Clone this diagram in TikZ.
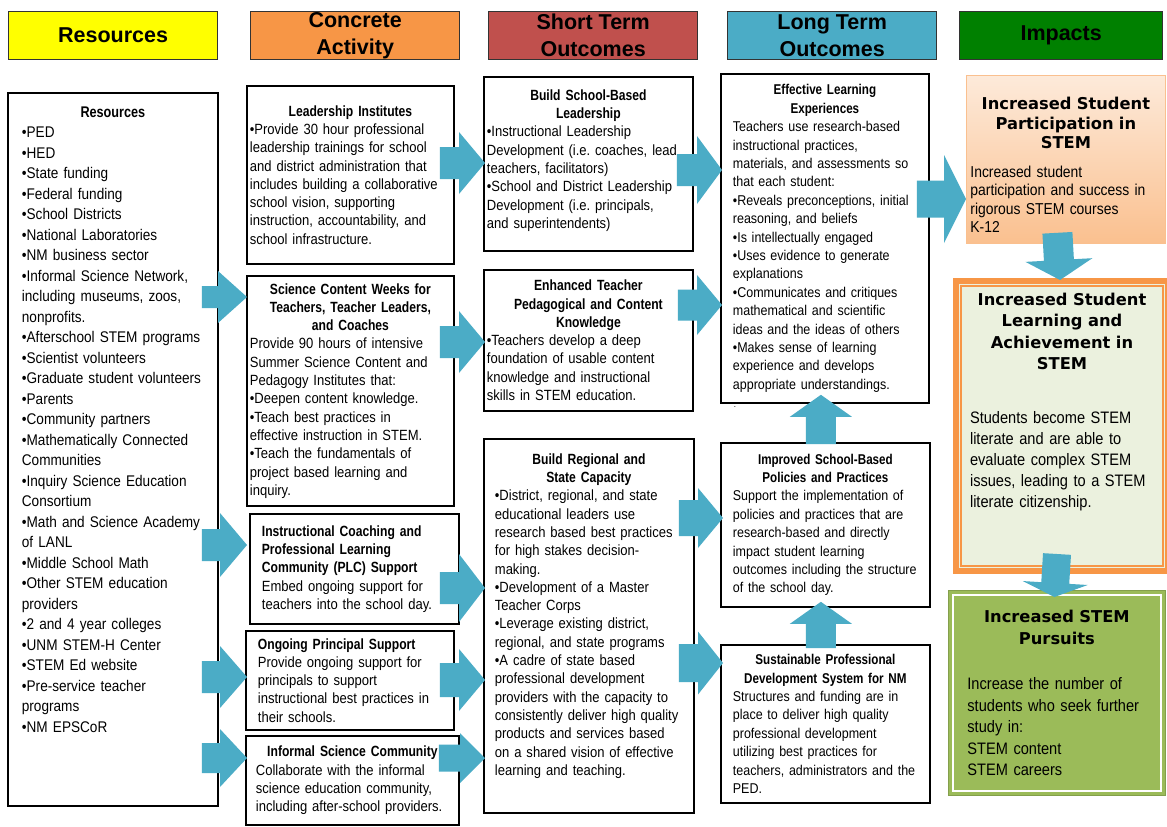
\documentclass[tikz,border=0pt]{standalone}
\usepackage{fontspec}
\setmainfont{Liberation Sans}[FakeStretch=0.88]
\newfontfamily\headfont{Liberation Sans Bold}[FakeStretch=0.82]
\newfontfamily\hdrfont{Liberation Sans}
\newfontfamily\impfont{DejaVu Sans}
\usepackage{tikz}
\usetikzlibrary{calc}
\usepackage{xcolor}
\definecolor{cYellow}{RGB}{255,255,0}
\definecolor{cOrange}{RGB}{247,150,70}
\definecolor{cRed}{RGB}{192,80,77}
\definecolor{cBlue}{RGB}{75,172,198}
\definecolor{cGreen}{RGB}{0,128,0}
\definecolor{cArrow}{RGB}{75,172,198}
\definecolor{cPeachTop}{RGB}{253,234,218}
\definecolor{cPeachBot}{RGB}{250,192,143}
\definecolor{cLearnBg}{RGB}{235,241,222}
\definecolor{cLeaf}{RGB}{155,187,89}
\frenchspacing
\hyphenpenalty=10000
\exhyphenpenalty=10000
% box headings
\newcommand{\bhd}[1]{{\centering\headfont #1\par}}
\newcommand{\ihd}[2][21.5]{{\centering\impfont\bfseries\fontsize{16.3}{#1}\selectfont #2\par}}
\tikzset{
	hdrbox/.style={draw=black!80, line width=1.3pt, anchor=north west,
		minimum width=209pt, minimum height=48pt, inner sep=0pt, align=center,
		font=\hdrfont\fontsize{21.5}{27}\selectfont\bfseries},
	lmbox/.style={draw=black, line width=1.8pt, fill=white, anchor=north west,
		inner ysep=0pt, align=left, font=\fontsize{14.8}{18.3}\selectfont},
	ltbox/.style={lmbox, font=\fontsize{14.2}{18.4}\selectfont},
	resbox/.style={lmbox, inner xsep=14pt, font=\fontsize{15.45}{20.5}\selectfont},
	impbox/.style={anchor=north west, inner ysep=0pt, align=left,
		font=\fontsize{16.6}{21}\selectfont},
	ashaft/.store in=\aShaft, ahead/.store in=\aHead, alen/.store in=\aLen,
	ashaft=16, ahead=31, alen=26,
	bigarr/.style={fill=cArrow, draw=none, to path={
			let \p1=(\tikztostart), \p2=(\tikztotarget),
			\n1={veclen(\x2-\x1,\y2-\y1)},
			\n2={(\x2-\x1)/\n1}, \n3={(\y2-\y1)/\n1} in
			({\x1-\n3*\aShaft},{\y1+\n2*\aShaft})
			-- ({\x2-\n2*\aLen-\n3*\aShaft},{\y2-\n3*\aLen+\n2*\aShaft})
			-- ({\x2-\n2*\aLen-\n3*\aHead},{\y2-\n3*\aLen+\n2*\aHead})
			-- (\p2)
			-- ({\x2-\n2*\aLen+\n3*\aHead},{\y2-\n3*\aLen-\n2*\aHead})
			-- ({\x2-\n2*\aLen+\n3*\aShaft},{\y2-\n3*\aLen-\n2*\aShaft})
			-- ({\x1+\n3*\aShaft},{\y1-\n2*\aShaft}) -- cycle}},
}

\begin{document}
\begin{tikzpicture}[x=1pt,y=-1pt]
	\fill[white] (0,0) rectangle (1167,827);
	\useasboundingbox (0,0) rectangle (1167,827);
	
	% column heads
	\node[hdrbox, fill=cYellow] (hres) at (8,11) {Resources};
	\node[hdrbox, fill=cOrange] (hact) at (250,11) {Concrete\\Activity};
	\node[hdrbox, fill=cRed] (hsto) at (488,11) {Short Term\\Outcomes};
	\node[hdrbox, fill=cBlue] (hlto) at (727,11) {Long Term\\Outcomes};
	\node[hdrbox, fill=cGreen, minimum width=203pt] (himp) at (959,11) {Impacts};
	
	% resources
	\node[resbox, text width=182pt, minimum height=713pt] (res) at (7,92) {\bhd{Resources}
		•PED\\ •HED\\ •State funding\\ •Federal funding\\ •School Districts\\
		•National Laboratories\\ •NM business sector\\ •Informal Science Network,\\
		including museums, zoos,\\ nonprofits.\\ •Afterschool STEM programs\\
		•Scientist volunteers\\ •Graduate student volunteers\\ •Parents\\
		•Community partners\\ •Mathematically Connected\\ Communities\\
		•Inquiry Science Education\\ Consortium\\ •Math and Science Academy\\
		of LANL\\ •Middle School Math\\ •Other STEM education\\ providers\\
		•2 and 4 year colleges\\ •UNM STEM-H Center\\ •STEM Ed website\\
		•Pre-service teacher\\ programs\\ •NM EPSCoR\rule[-60pt]{0pt}{0pt}};
	
	% concrete activity
	\node[lmbox, inner xsep=3pt, text width=201pt, minimum height=178pt] (lead) at (246,85)
	{\bhd{Leadership Institutes}
		•Provide 30 hour professional\\ leadership trainings for school\\
		and district administration that\\ includes building a collaborative\\
		school vision, supporting\\ instruction, accountability, and\\
		school infrastructure.};
	\node[lmbox, inner xsep=3pt, text width=201pt, minimum height=230pt] (sci) at (246,275)
	{\bhd{Science Content Weeks for\\ Teachers, Teacher Leaders,\\ and Coaches}
		Provide 90 hours of intensive\\ Summer Science Content and\\
		Pedagogy Institutes that:\\ •Deepen content knowledge.\\
		•Teach best practices in\\ effective instruction in STEM.\\
		•Teach the fundamentals of\\ project based learning and\\ inquiry.};
	\node[lmbox, inner xsep=12pt, text width=185pt, minimum height=110pt] (coach) at (249,513)
	{{\headfont Instructional Coaching and\\ Professional Learning\\
			Community (PLC) Support\par}
		Embed ongoing support for\\ teachers into the school day.};
	\node[lmbox, inner xsep=12pt, text width=184pt, minimum height=99pt] (prin) at (245,630)
	{{\headfont Ongoing Principal Support\par}
		Provide ongoing support for\\ principals to support\\
		instructional best practices in\\ their schools.};
	\node[lmbox, inner xsep=10pt, text width=193pt, minimum height=89pt] (inf) at (245,735)
	{\bhd{Informal Science Community}
		Collaborate with the informal\\ science education community,\\
		including after-school providers.};
	
	% short term outcomes
	\node[lmbox, inner xsep=3pt, text width=203pt, minimum height=174pt] (bsl) at (483,76)
	{\bhd{Build School-Based\\ Leadership}
		•Instructional Leadership\\ Development (i.e. coaches, lead\\
		teachers, facilitators)\\ •School and District Leadership\\
		Development (i.e. principals,\\ and superintendents)\rule[-10pt]{0pt}{0pt}};
	\node[lmbox, inner xsep=3pt, text width=203pt, minimum height=141pt] (etp) at (483,269)
	{\bhd{Enhanced Teacher\\ Pedagogical and Content\\ Knowledge}
		•Teachers develop a deep\\ foundation of usable content\\
		knowledge and instructional\\ skills in STEM education.};
	\node[lmbox, inner xsep=11pt, text width=188pt, minimum height=374pt] (brs) at (483,438)
	{\bhd{Build Regional and\\ State Capacity}
		•District, regional, and state\\ educational leaders use\\
		research based best practices\\ for high stakes decision-\\ making.\\
		•Development of a Master\\ Teacher Corps\\
		•Leverage existing district,\\ regional, and state programs\\
		•A cadre of state based\\ professional development\\
		providers with the capacity to\\ consistently deliver high quality\\
		products and services based\\ on a shared vision of effective\\
		learning and teaching.\rule[-23pt]{0pt}{0pt}};
	
	% long term outcomes
	\node[ltbox, inner xsep=12pt, text width=184pt, minimum height=329pt] (elx) at (720,73)
	{\bhd{Effective Learning\\ Experiences}
		Teachers use research-based\\ instructional practices,\\
		materials, and assessments so\\ that each student:\\
		•Reveals preconceptions, initial\\ reasoning, and beliefs\\
		•Is intellectually engaged\\ •Uses evidence to generate\\ explanations\\
		•Communicates and critiques\\ mathematical and scientific\\
		ideas and the ideas of others\\ •Makes sense of learning\\
		experience and develops\\ appropriate understandings.};
	\node[font=\fontsize{9}{9}\selectfont, inner sep=0pt] (dot) at (735,407) {.};
	\node[ltbox, inner xsep=12pt, text width=185pt, minimum height=164pt] (isp) at (720,442)
	{\bhd{Improved School-Based\\ Policies and Practices}
		Support the implementation of\\ policies and practices that are\\
		research-based and directly\\ impact student learning\\
		outcomes including the structure\\ of the school day.};
	\node[ltbox, inner xsep=12pt, text width=185pt, minimum height=158pt] (spd) at (720,644)
	{\bhd{Sustainable Professional\\ Development System for NM}
		Structures and funding are in\\ place to deliver high quality\\
		professional development\\ utilizing best practices for\\
		teachers, administrators and the\\ PED.};
	
	% impacts
	\node[impbox, top color=cPeachTop, bottom color=cPeachBot, draw=cPeachBot,
	line width=0.8pt, inner xsep=4pt, text width=191pt, minimum height=168pt,
	font=\fontsize{15.8}{18.5}\selectfont] (pa) at (966,75)
	{\ihd[19.5]{\rule{0pt}{24pt}Increased Student\\ Participation in\\ STEM}
		\vspace{10pt}
		Increased student\\ participation and success in\\
		rigorous STEM courses\\ K-12};
	\node[impbox, draw=cOrange, line width=6pt, fill=cLearnBg, inner xsep=14pt,
	text width=184pt, minimum height=290pt] (sla) at (953,278)
	{\ihd{Increased Student\\ Learning and\\ Achievement in\\ STEM}
		\vspace{33pt}
		Students become STEM\\ literate and are able to\\
		evaluate complex STEM\\ issues, leading to a STEM\\
		literate citizenship.\rule[-51pt]{0pt}{0pt}};
	\draw[cOrange, line width=1.2pt] ([shift={(8,8)}]sla.north west)
	rectangle ([shift={(-8,-8)}]sla.south east);
	\node[impbox, fill=cLeaf, draw=cLeaf!85!black, line width=0.8pt, inner xsep=19pt,
	text width=179pt, minimum height=205pt, font=\fontsize{16.6}{21.5}\selectfont] (pur) at (948,590)
	{\ihd{Increased STEM\\ Pursuits}
		\vspace{24pt}
		Increase the number of\\ students who seek further\\ study in:\\
		STEM content\\ STEM careers};
	\draw[white, line width=1.5pt] ([shift={(5,5)}]pur.north west)
	rectangle ([shift={(-5,-5)}]pur.south east);
	
	% arrows
	\path[bigarr, ashaft=11, ahead=26, alen=29] ($(res.north east)+(-17,205)$) to ($(sci.north west)+(1,22)$);
	\path[bigarr, alen=27, ahead=32] ($(res.north east)+(-17,453)$) to ($(coach.north west)+(-2,32)$);
	\path[bigarr, alen=27] ($(res.north east)+(-17,585)$) to ($(prin.north west)+(2,47)$);
	\path[bigarr, ashaft=15, ahead=29, alen=27] ($(res.north east)+(-17,666)$) to ($(inf.north west)+(2,23)$);
	\path[bigarr] ($(lead.north east)+(-15,78)$) to ($(bsl.north west)+(2,87)$);
	\path[bigarr] ($(sci.north east)+(-15,67)$) to ($(etp.north west)+(2,73)$);
	\path[bigarr, ahead=34] ($(coach.north east)+(-20,75)$) to ($(brs.north west)+(2,150)$);
	\path[bigarr, ashaft=17] ($(prin.north east)+(-15,50)$) to ($(brs.north west)+(2,242)$);
	\path[bigarr, ashaft=13.5, ahead=25, alen=25] ($(inf.north east)+(-21,23)$) to ($(brs.north west)+(2,320)$);
	\path[bigarr, ahead=34, alen=25] ($(bsl.north east)+(-17,94)$) to ($(elx.north west)+(2,97)$);
	\path[bigarr, ashaft=15.5, ahead=30, alen=25] ($(etp.north east)+(-16,36)$) to ($(elx.north west)+(2,232)$);
	\path[bigarr, ashaft=18, ahead=30, alen=25] ($(brs.north east)+(-16,80)$) to ($(isp.north west)+(3,76)$);
	\path[bigarr, ashaft=19, ahead=31.5, alen=25] ($(brs.north east)+(-16,225)$) to ($(spd.north west)+(3,19)$);
	\path[bigarr, ashaft=15, alen=22] ($(spd.north)+(-4.5,4)$) to ($(isp.south)+(-4.5,-6)$);
	\path[bigarr, ashaft=15, alen=22] ($(isp.north)+(-4.5,2)$) to ($(elx.south)+(-4,-9)$);
	\path[bigarr, ashaft=18.5, ahead=44, alen=22] ($(elx.north east)+(-13,126)$) to ($(pa.north west)+(0,124)$);
	\path[bigarr, ashaft=15, ahead=33.5, alen=20] ($(pa.south)+(-8.5,-11)$) to ($(sla.north)+(-2,2)$);
	\path[bigarr, ashaft=14, ahead=32.5, alen=14] ($(sla.south)+(-5,-20)$) to ($(pur.north)+(-2.5,7)$);
\end{tikzpicture}
\end{document}
